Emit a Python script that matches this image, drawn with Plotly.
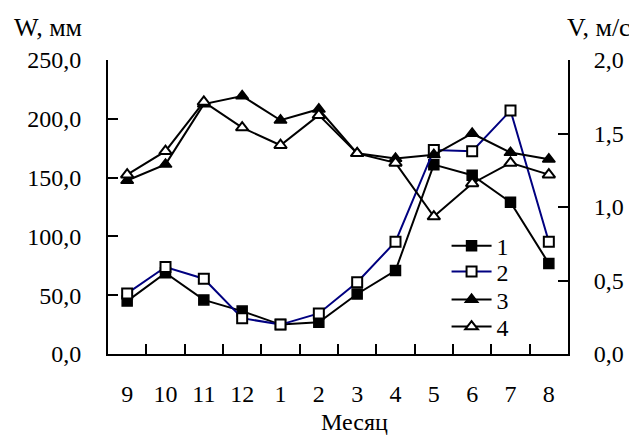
import plotly.graph_objects as go

months = ["9", "10", "11", "12", "1", "2", "3", "4", "5", "6", "7", "8"]
s1_w = [45, 69, 46, 36.5, 25, 27, 51, 71, 161, 152, 129, 77]
s2_w = [51.5, 74, 64, 30.5, 25, 34.5, 61, 95.5, 173.5, 172.5, 207, 95.5]
s3_v = [1.18, 1.29, 1.70, 1.755, 1.59, 1.665, 1.365, 1.33, 1.355, 1.50, 1.37, 1.325]
s4_v = [1.22, 1.38, 1.715, 1.54, 1.42, 1.625, 1.365, 1.30, 0.935, 1.16, 1.30, 1.22]
names = ["1", "2", "3", "4"]

FONT = "Liberation Serif"
BLACK = "#000000"
NAVY = "#000080"

fig = go.Figure()
fig.add_trace(go.Scatter(x=months, y=s1_w, name=names[0], mode="lines+markers", legend="legend",
                         line=dict(color=BLACK, width=2),
                         marker=dict(symbol="square", size=10, color=BLACK,
                                     line=dict(color=BLACK, width=1.5))))
fig.add_trace(go.Scatter(x=months, y=s2_w, name=names[1], mode="lines+markers", legend="legend2",
                         line=dict(color=NAVY, width=2),
                         marker=dict(symbol="square", size=10, color="white",
                                     line=dict(color=BLACK, width=2))))
fig.add_trace(go.Scatter(x=months, y=s3_v, name=names[2], mode="lines+markers", yaxis="y2",
                         legend="legend3",
                         line=dict(color=BLACK, width=2),
                         marker=dict(symbol="triangle-up", size=11, color=BLACK,
                                     line=dict(color=BLACK, width=1.5))))
fig.add_trace(go.Scatter(x=months, y=s4_v, name=names[3], mode="lines+markers", yaxis="y2",
                         legend="legend4",
                         line=dict(color=BLACK, width=2),
                         marker=dict(symbol="triangle-up", size=11, color="white",
                                     line=dict(color=BLACK, width=2))))

axis_common = dict(showgrid=False, zeroline=False, showline=True, linecolor=BLACK,
                   linewidth=2, ticks="inside", tickcolor=BLACK, tickwidth=2,
                   ticklen=10, tickfont=dict(family=FONT, size=24, color=BLACK))


def leg(y):
    return dict(x=0.736, y=y, xanchor="left", yanchor="middle",
                bgcolor="rgba(0,0,0,0)", font=dict(family=FONT, size=24, color=BLACK),
                itemwidth=40)


fig.update_layout(
    width=629, height=435,
    margin=dict(l=100, r=69, t=52, b=89),
    paper_bgcolor="white", plot_bgcolor="white",
    separators=", ",
    font=dict(family=FONT, size=24, color=BLACK),
    showlegend=True,
    legend=leg(0.367), legend2=leg(0.279), legend3=leg(0.184), legend4=leg(0.092),
    xaxis=dict(type="category", tickson="boundaries", range=[-0.5, 11.5],
               ticklabelstandoff=17, **axis_common),
    yaxis=dict(range=[0, 250], dtick=50, tick0=0, tickformat=".1f",
               ticklabelstandoff=20, **axis_common),
    yaxis2=dict(range=[0, 2], dtick=0.5, tick0=0, tickformat=".1f", overlaying="y",
                side="right", ticklabelstandoff=19, **axis_common),
    annotations=[
        dict(text="W, мм", xref="paper", yref="paper", x=-0.209, y=1.109,
             xanchor="left", yanchor="middle", showarrow=False,
             font=dict(family=FONT, size=26, color=BLACK)),
        dict(text="V, м/с", xref="paper", yref="paper", x=0.993, y=1.109,
             xanchor="left", yanchor="middle", showarrow=False,
             font=dict(family=FONT, size=26, color=BLACK)),
        dict(text="Месяц", xref="paper", yref="paper", x=0.535, y=-0.232,
             xanchor="center", yanchor="middle", showarrow=False,
             font=dict(family=FONT, size=24, color=BLACK)),
    ],
)

fig.write_html("out.html")
